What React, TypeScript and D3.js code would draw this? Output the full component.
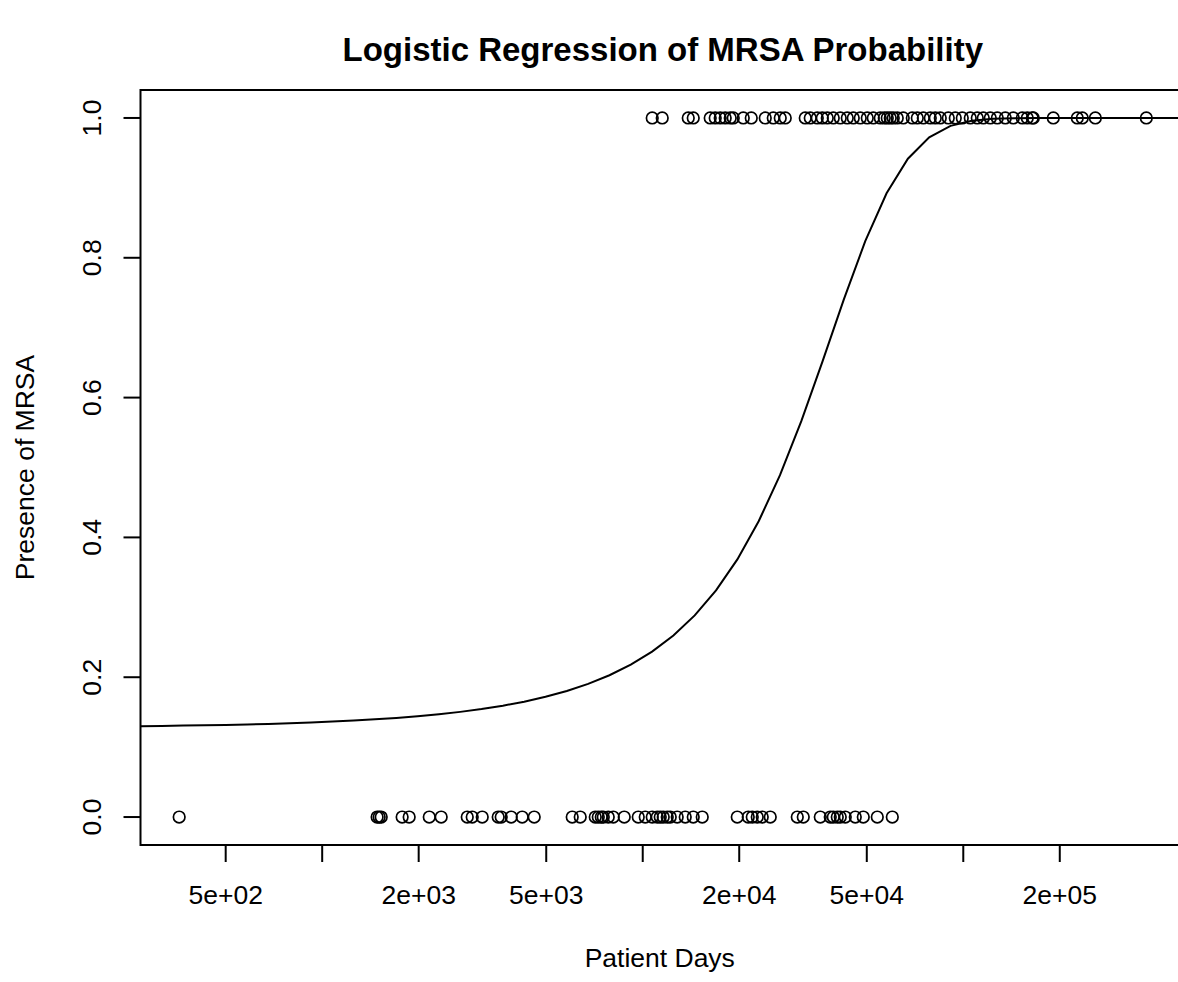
import React from "react";
import * as d3 from "d3";

// Patient days for facilities without MRSA (outcome 0)
const daysNoMRSA: number[] = [
  358, 1484, 1506, 1528, 1776, 1868, 2158, 2351, 2835, 2938, 3157, 3541, 3618,
  3887, 4207, 4586, 6026, 6383, 7110, 7266, 7424, 7532, 7806, 8091, 8756, 9683,
  10181, 10706, 11097, 11340, 11588, 11924, 12185, 12810, 13570, 14374, 15334,
  19720, 21339, 21962, 22766, 23596, 24993, 30349, 31682, 35801, 38459, 39301,
  40450, 41327, 42836, 46033, 48757, 53917, 60060,
];

// Patient days for facilities with MRSA (outcome 1)
const daysMRSA: number[] = [
  10706, 11503, 13868, 14374, 16237, 16831, 17445, 18083, 18750, 19159, 20590,
  21806, 24112, 25540, 26855, 27836, 32137, 33313, 35036, 36317, 37645, 39301,
  41327, 43460, 45374, 47712, 50175, 52383, 55081, 56688, 57926, 59180, 60471,
  62235, 64972, 69330, 71867, 75032, 78897, 81780, 84765, 89790, 94412, 99290,
  105147, 110579, 115448, 121403, 127680, 135217, 143224, 152779, 158372,
  164171, 165353, 190899, 226830, 235127, 258210, 372400,
];

// Fitted logistic model: logit(p) = intercept + slope * days
const intercept = -1.92;
const slope = 7.0e-5;

const xTicks: number[] = [500, 1000, 2000, 5000, 10000, 20000, 50000, 100000, 200000];
const xTickLabels: Record<number, string> = {
  500: "5e+02",
  2000: "2e+03",
  5000: "5e+03",
  20000: "2e+04",
  50000: "5e+04",
  200000: "2e+05",
};
const yTicks: number[] = [0, 0.2, 0.4, 0.6, 0.8, 1.0];

const W = 1178;
const H = 982;
const left = 140.5;
const right = 1185;
const top = 90;
const bottom = 845;
const font = "'Liberation Sans', Arial, Helvetica, sans-serif";
const axisSize = 26.5;

export default function App() {
  const allDays = [...daysNoMRSA, ...daysMRSA];
  const lo = Math.log10(d3.min(allDays)!);
  const hi = Math.log10(d3.max(allDays)!);
  const pad = (hi - lo) * 0.04;
  const x = d3
    .scaleLog()
    .domain([Math.pow(10, lo - pad), Math.pow(10, hi + pad)])
    .range([left, right]);
  const y = d3.scaleLinear().domain([-0.04, 1.04]).range([bottom, top]);

  // model curve sampled evenly on the log scale across the plot range
  const n = 50;
  const curvePts: [number, number][] = d3.range(n).map((i) => {
    const lv = lo - pad + ((hi - lo + 2 * pad) * i) / (n - 1);
    const v = Math.pow(10, lv);
    const p = 1 / (1 + Math.exp(-(intercept + slope * v)));
    return [x(v), y(p)];
  });
  const line = d3.line();

  return (
    <svg
      width={W}
      height={H}
      style={{ position: "absolute", left: 0, top: 0, background: "#fff" }}
      fontFamily={font}
    >
      <rect x={0} y={0} width={W} height={H} fill="#fff" />
      <defs>
        <clipPath id="plotClip">
          <rect x={left} y={top} width={right - left} height={bottom - top} />
        </clipPath>
      </defs>

      <text
        x={(left + right) / 2}
        y={61}
        textAnchor="middle"
        fontSize={33}
        fontWeight="bold"
        fill="#000"
      >
        Logistic Regression of MRSA Probability
      </text>

      {/* plot box */}
      <rect
        x={left}
        y={top}
        width={right - left}
        height={bottom - top}
        fill="none"
        stroke="#000"
        strokeWidth={2}
      />

      {/* x axis */}
      {xTicks.map((t) => (
        <g key={"xt" + t}>
          <line x1={x(t)} x2={x(t)} y1={bottom} y2={bottom + 17} stroke="#000" strokeWidth={2} />
          {xTickLabels[t] && (
            <text x={x(t)} y={904} textAnchor="middle" fontSize={axisSize} fill="#000">
              {xTickLabels[t]}
            </text>
          )}
        </g>
      ))}
      <text x={(left + right) / 2 - 3} y={967} textAnchor="middle" fontSize={axisSize} fill="#000">
        Patient Days
      </text>

      {/* y axis */}
      {yTicks.map((t) => (
        <g key={"yt" + t}>
          <line x1={left - 17} x2={left} y1={y(t)} y2={y(t)} stroke="#000" strokeWidth={2} />
          <text
            transform={`translate(101,${y(t)}) rotate(-90)`}
            textAnchor="middle"
            fontSize={axisSize}
            fill="#000"
          >
            {t.toFixed(1)}
          </text>
        </g>
      ))}
      <text
        transform={`translate(34,${(top + bottom) / 2}) rotate(-90)`}
        textAnchor="middle"
        fontSize={axisSize}
        fill="#000"
      >
        Presence of MRSA
      </text>

      <g clipPath="url(#plotClip)">
        {daysNoMRSA.map((d, i) => (
          <circle key={"a" + i} cx={x(d)} cy={y(0)} r={5.8} fill="none" stroke="#000" strokeWidth={1.7} />
        ))}
        {daysMRSA.map((d, i) => (
          <circle key={"b" + i} cx={x(d)} cy={y(1)} r={5.8} fill="none" stroke="#000" strokeWidth={1.7} />
        ))}
        <path d={line(curvePts) || ""} fill="none" stroke="#000" strokeWidth={2} />
      </g>
    </svg>
  );
}
